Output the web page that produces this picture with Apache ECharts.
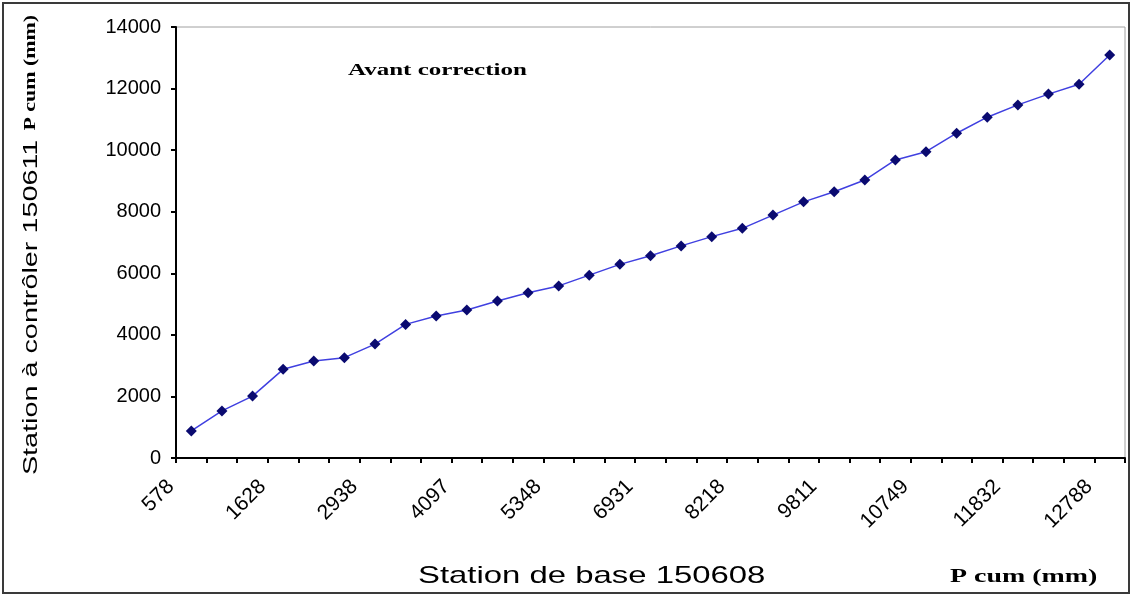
<!DOCTYPE html>
<html>
<head>
<meta charset="utf-8">
<script src="https://cdn.jsdelivr.net/npm/echarts@6/dist/echarts.min.js"></script>
<style>
  html, body { margin: 0; padding: 0; background: #ffffff; }
  #chart { width: 1133px; height: 597px; }
</style>
</head>
<body>
<div id="chart"></div>
<script>
// Cumulative base station value shown under every third station (others unlabelled)
const tickLabels = ['578', '1628', '2938', '4097', '5348', '6931', '8218', '9811', '10749', '11832', '12788'];
const labelStep = 3;
const stationCount = 31;

// Cumulative P (mm) at the station being checked, one per station
const pCum = [
  880, 1530, 2010, 2880, 3150, 3260, 3700, 4340, 4610, 4810,
  5100, 5370, 5590, 5940, 6290, 6570, 6890, 7190, 7460, 7890,
  8320, 8650, 9030, 9680, 9950, 10550, 11070, 11470, 11820, 12140,
  13090
];

const yTicks = { min: 0, max: 14000, step: 2000 };

// Category list: a label every third station, blanks in between
const categories = [];
for (let i = 0; i < stationCount; i++) {
  categories.push(i % labelStep === 0 ? tickLabels[i / labelStep] : '');
}

const chart = echarts.init(document.getElementById('chart'));
chart.setOption({
  backgroundColor: '#ffffff',
  animation: false,
  grid: {
    left: 176, right: 8, top: 27, bottom: 139,
    show: true, borderColor: '#a0a0a0', borderWidth: 1, backgroundColor: '#ffffff'
  },
  xAxis: {
    type: 'category',
    data: categories,
    boundaryGap: true,
    axisLine: { show: true, lineStyle: { color: '#000000', width: 2 } },
    axisTick: { show: true, interval: 0, length: 5, lineStyle: { color: '#000000', width: 2 } },
    axisLabel: {
      interval: 0, rotate: 45, margin: 5,
      padding: [0, 29, 0, 0],
      fontFamily: 'Liberation Sans', fontSize: 21, color: '#000000'
    },
    splitLine: { show: false }
  },
  yAxis: {
    type: 'value',
    min: yTicks.min, max: yTicks.max, interval: yTicks.step,
    axisLine: { show: true, lineStyle: { color: '#000000', width: 2 } },
    axisTick: { show: true, length: 5, lineStyle: { color: '#000000', width: 2 } },
    axisLabel: {
      margin: 15, fontFamily: 'Liberation Sans', fontSize: 20, color: '#000000',
      formatter: function (v) { return String(v); }
    },
    splitLine: { show: false }
  },
  graphic: [
    {
      type: 'rect', silent: true, z: -1,
      shape: { x: 3, y: 3, width: 1126, height: 590 },
      style: { fill: 'none', stroke: '#3a3a3a', lineWidth: 2 }
    },
    {
      // y-axis title, reading bottom to top
      type: 'text', x: 31, y: 245, rotation: Math.PI / 2, scaleX: 1.37,
      style: {
        text: '{a|Station à contrôler 150611}  {b|P cum (mm)}',
        align: 'center', verticalAlign: 'middle',
        rich: {
          a: { fontFamily: 'Liberation Sans', fontSize: 21, fill: '#000000' },
          b: { fontFamily: 'Liberation Serif', fontWeight: 'bold', fontSize: 16, fill: '#000000' }
        }
      }
    },
    {
      type: 'text', x: 348, y: 71, scaleX: 1.47,
      style: { text: 'Avant correction', font: 'bold 17px "Liberation Serif"', fill: '#000000', verticalAlign: 'middle' }
    },
    {
      type: 'text', x: 418, y: 576, scaleX: 1.37,
      style: { text: 'Station de base 150608', font: '24px "Liberation Sans"', fill: '#000000', verticalAlign: 'middle' }
    },
    {
      type: 'text', x: 950, y: 577, scaleX: 1.55,
      style: { text: 'P cum (mm)', font: 'bold 18px "Liberation Serif"', fill: '#000000', verticalAlign: 'middle' }
    }
  ],
  series: [{
    type: 'line',
    data: pCum,
    symbol: 'diamond',
    symbolSize: 11,
    lineStyle: { color: '#4040e0', width: 1.5 },
    itemStyle: { color: '#0a0a70' }
  }]
});
</script>
</body>
</html>
